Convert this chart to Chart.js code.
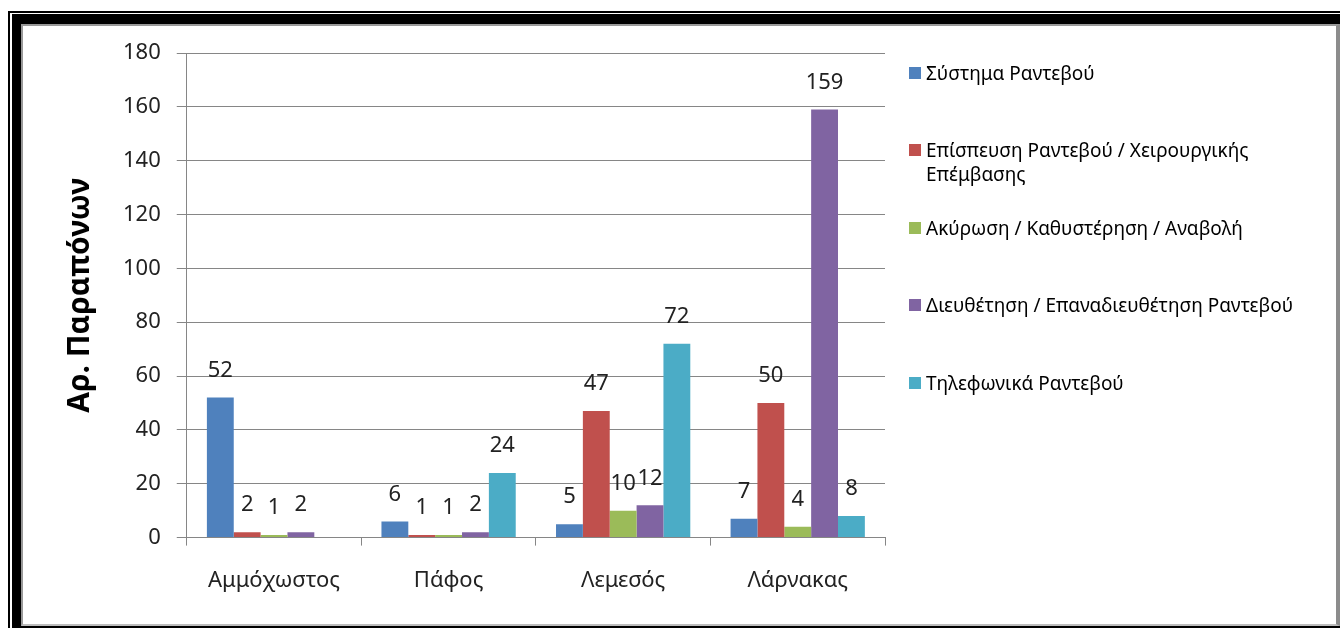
<!DOCTYPE html>
<html>
<head>
<meta charset="utf-8">
<script src="https://cdn.jsdelivr.net/npm/chart.js@4.4.0/dist/chart.umd.min.js"></script>
<style>
  body { margin: 0; background: #fff; width: 1340px; height: 628px; overflow: hidden; position: relative; font-family: "Noto Sans", sans-serif; }
  .f1 { position: absolute; left: 8px; top: 11px; width: 1400px; height: 700px; border-top: 2px solid #000; border-left: 2px solid #000; }
  .f2 { position: absolute; left: 12px; top: 14px; width: 1400px; height: 700px; border-top: 10px solid #000; border-left: 9px solid #000; }
  .f3 { position: absolute; left: 21px; top: 24px; width: 1313px; height: 598px; border-top: 2px solid #999; border-left: 2px solid #999; border-right: 4px solid #8c8c8c; border-bottom: 2px solid #bdbdbd; background: #fff; }
  .f4 { position: absolute; left: 12px; top: 626px; width: 1400px; height: 2px; background: #000; }
  #c { position: absolute; left: 0; top: 0; }
  #legend { position: absolute; left: 909px; top: 0; width: 420px; }
  .item { position: absolute; left: 0; display: flex; align-items: flex-start; font-size: 19px; line-height: 24px; color: #000; width: 395px; }
  .box { width: 12px; height: 12px; margin-top: 6px; margin-right: 5px; flex: none; }
</style>
</head>
<body>
<div class="f1"></div>
<div class="f2"></div>
<div class="f3"></div>
<div class="f4"></div>
<canvas id="c" width="1340" height="628"></canvas>
<div id="legend"></div>
<script>
const categories = ["Αμμόχωστος", "Πάφος", "Λεμεσός", "Λάρνακας"];
const seriesNames = [
  "Σύστημα Ραντεβού",
  "Επίσπευση Ραντεβού / Χειρουργικής Επέμβασης",
  "Ακύρωση / Καθυστέρηση / Αναβολή",
  "Διευθέτηση / Επαναδιευθέτηση Ραντεβού",
  "Τηλεφωνικά Ραντεβού"
];
const systima = [52, 6, 5, 7];
const epispeusi = [2, 1, 47, 50];
const akyrosi = [1, 1, 10, 4];
const dieuthetisi = [2, 2, 12, 159];
const tilefonika = [null, 24, 72, 8];
const colors = ["#4F81BD", "#C0504D", "#9BBB59", "#8064A2", "#4BACC6"];
const yTicks = [0, 20, 40, 60, 80, 100, 120, 140, 160, 180];

const values = [systima, epispeusi, akyrosi, dieuthetisi, tilefonika];

const valueLabels = {
  id: "valueLabels",
  afterDatasetsDraw(chart) {
    const ctx = chart.ctx;
    ctx.save();
    ctx.font = "22px 'Noto Sans'";
    ctx.fillStyle = "#222";
    ctx.textAlign = "center";
    ctx.textBaseline = "middle";
    chart.data.datasets.forEach((ds, i) => {
      const meta = chart.getDatasetMeta(i);
      meta.data.forEach((bar, j) => {
        const v = ds.data[j];
        if (v === null || v === undefined) return;
        ctx.fillText(String(v), bar.x, bar.y - 27);
      });
    });
    ctx.restore();
  }
};

const ctx = document.getElementById("c").getContext("2d");
const chart = new Chart(ctx, {
  type: "bar",
  data: {
    labels: categories,
    datasets: values.map((arr, i) => ({
      label: seriesNames[i],
      data: arr,
      backgroundColor: colors[i],
      borderWidth: 0,
      categoryPercentage: 5 / 6.5,
      barPercentage: 1
    }))
  },
  options: {
    responsive: false,
    animation: false,
    layout: { padding: { left: 58, top: 53, right: 455, bottom: 12 } },
    plugins: {
      legend: { display: false },
      tooltip: { enabled: false }
    },
    scales: {
      x: {
        offset: true,
        grid: { offset: true, drawOnChartArea: false, drawTicks: true, tickLength: 8, color: "#868686" },
        border: { color: "#868686" },
        ticks: { color: "#222", padding: 22, font: { size: 22, family: "'Noto Sans'" } }
      },
      y: {
        min: 0,
        max: 180,
        afterBuildTicks(axis) { axis.ticks = yTicks.map(v => ({ value: v })); },
        grid: { color: "#868686", tickLength: 10 },
        border: { color: "#868686" },
        ticks: { color: "#222", padding: 16, font: { size: 22, family: "'Noto Sans'" } },
        title: {
          display: true,
          text: "Αρ. Παραπόνων",
          color: "#000",
          font: { size: 30, weight: "bold", family: "'Noto Sans'" },
          padding: { top: 4, bottom: 9 }
        }
      }
    }
  },
  plugins: [valueLabels]
});

// legend built from the chart's datasets
const legendTops = [73, 150, 228, 305, 383];
const legend = document.getElementById("legend");
chart.data.datasets.forEach((ds, i) => {
  const item = document.createElement("div");
  item.className = "item";
  item.style.top = (legendTops[i] - 12) + "px";
  const box = document.createElement("span");
  box.className = "box";
  box.style.background = ds.backgroundColor;
  const txt = document.createElement("span");
  txt.textContent = ds.label;
  item.appendChild(box);
  item.appendChild(txt);
  legend.appendChild(item);
});
</script>
</body>
</html>
